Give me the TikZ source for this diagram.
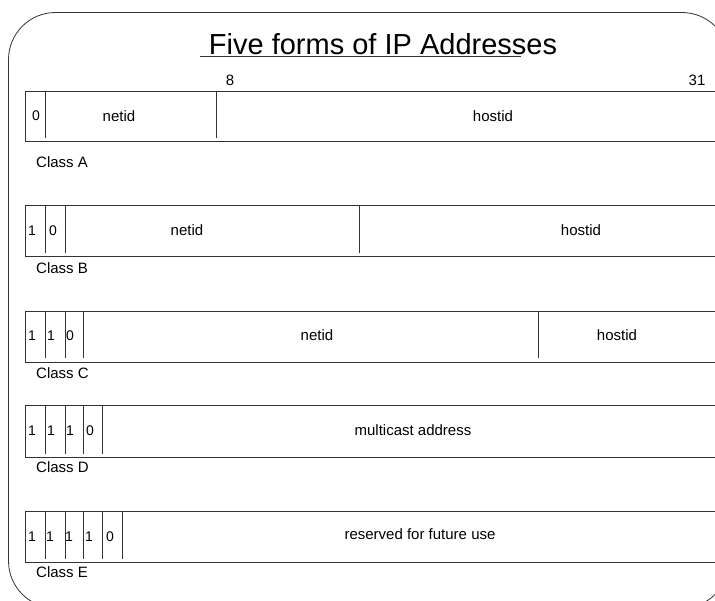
\documentclass[tikz,border=0pt]{standalone}
\usepackage{fontspec}
\setmainfont{Liberation Sans}
\usetikzlibrary{positioning}

\tikzset{
  frameline/.style={draw=black!80, line width=0.8pt},
  rowbox/.style={draw=black!80, line width=0.8pt},
  sep/.style={draw=black!80, line width=0.8pt},
  field/.style={font=\fontsize{15}{15}\selectfont, inner sep=0pt},
  bitlabel/.style={font=\fontsize{14}{14}\selectfont, inner sep=0pt},
  classlabel/.style={font=\fontsize{15}{15}\selectfont, inner sep=0pt, anchor=west}
}

\begin{document}
\begin{tikzpicture}[x=1pt, y=-1pt]
		\useasboundingbox (0,0) rectangle (715,600);
		\clip (0,0) rectangle (715,600);

		% frame
		\draw[frameline, rounded corners=47pt] (8.5,12.5) rectangle (729,608);

		% title
		\node[font=\fontsize{29}{29}\selectfont, inner sep=0pt, anchor=base] (title) at (383,54) {Five forms of IP Addresses};
		\draw[black!80, line width=0.8pt] (200,56) -- (521,56);
		\node[field, anchor=base] (pos8) at (230,85) {8};
		\node[field, anchor=base] (pos31) at (697,85) {31};

		% rows
		\draw[rowbox] (25,91) rectangle (725,141);
		\draw[rowbox] (25,205) rectangle (725,256);
		\draw[rowbox] (25,311) rectangle (725,362);
		\draw[rowbox] (25,405) rectangle (725,457);
		\draw[rowbox] (25,511) rectangle (725,562);

		% separators
		\foreach \x in {45,216} \draw[sep] (\x,91) -- (\x,138);
		\foreach \x in {45,65,359} \draw[sep] (\x,205) -- (\x,253);
		\foreach \x in {45,65,83,538} \draw[sep] (\x,311) -- (\x,358);
		\foreach \x in {45,65,83,102} \draw[sep] (\x,405) -- (\x,454);
		\foreach \x in {45,65,83,102,122} \draw[sep] (\x,511) -- (\x,559);

		% Class A
		\node[bitlabel] (bA1) at (36,116) {0};
		\node[field] (netA) at (119,116) {netid};
		\node[field] (hostA) at (493,116) {hostid};
		\node[classlabel] (classA) at (36,162) {Class A};

		% Class B
		\foreach \x/\d [count=\i] in {32/1,53/0}
			\node[bitlabel] (bB\i) at (\x,230.5) {\d};
		\node[field] (netB) at (187,230.5) {netid};
		\node[field] (hostB) at (581,230.5) {hostid};
		\node[classlabel] (classB) at (36,268) {Class B};

		% Class C
		\foreach \x/\d [count=\i] in {32/1,51/1,70/0}
			\node[bitlabel] (bC\i) at (\x,336) {\d};
		\node[field] (netC) at (317,335) {netid};
		\node[field] (hostC) at (617,335) {hostid};
		\node[classlabel] (classC) at (36,373) {Class C};

		% Class D
		\foreach \x/\d [count=\i] in {32/1,51/1,70/1,90/0}
			\node[bitlabel] (bD\i) at (\x,431) {\d};
		\node[field] (multD) at (413,430) {multicast address};
		\node[classlabel] (classD) at (36,467) {Class D};

		% Class E
		\foreach \x/\d [count=\i] in {32/1,50/1,69/1,89/1,110/0}
			\node[bitlabel] (bE\i) at (\x,537) {\d};
		\node[field] (resE) at (420,534) {reserved for future use};
		\node[classlabel] (classE) at (36,572) {Class E};

	\end{tikzpicture}
\end{document}
